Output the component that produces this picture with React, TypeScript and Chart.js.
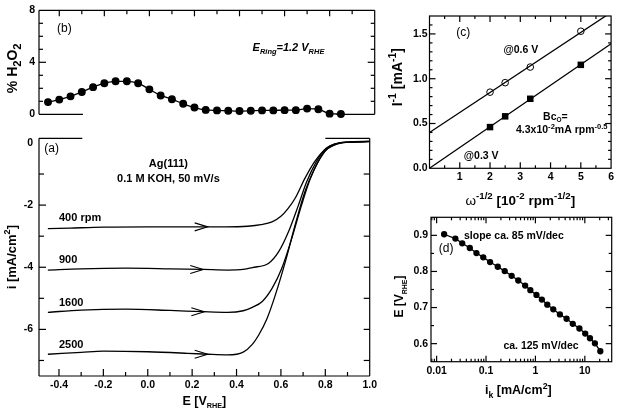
import React, { useEffect, useRef } from "react";
import { Chart, registerables } from "chart.js";

Chart.register(...registerables);

const FF = '"Liberation Sans", Arial, Helvetica, sans-serif';

// ---------- Panel (b): % H2O2 vs E ----------
const ringE = [-0.45, -0.4, -0.35, -0.3, -0.25, -0.2, -0.15, -0.1, -0.05, 0.0, 0.05, 0.1, 0.15, 0.2, 0.25, 0.3, 0.35, 0.4, 0.45, 0.5, 0.55, 0.6, 0.65, 0.7, 0.75, 0.8, 0.85];
const h2o2Pct = [0.94, 1.13, 1.38, 1.72, 2.09, 2.39, 2.54, 2.54, 2.39, 1.92, 1.45, 1.16, 0.81, 0.52, 0.34, 0.3, 0.27, 0.25, 0.27, 0.3, 0.3, 0.32, 0.32, 0.44, 0.39, 0.05, 0.02];
const h2o2Ticks = [0, 4, 8];

// ---------- Panel (a): LSV curves ----------
const eTicks = [-0.4, -0.2, 0.0, 0.2, 0.4, 0.6, 0.8, 1.0];
const iTicks = [0, -2, -4, -6];
const lsv400 = [[-0.45, -2.76], [-0.35, -2.74], [-0.2, -2.71], [0, -2.7], [0.2, -2.7], [0.35, -2.7], [0.45, -2.68], [0.51, -2.63], [0.56, -2.54], [0.6, -2.36], [0.63, -2.13], [0.664, -1.78], [0.708, -1.14], [0.752, -0.6], [0.797, -0.22], [0.84, -0.04], [0.9, 0.03], [1.0, 0.05]];
const lsv900 = [[-0.45, -4.09], [-0.3, -4.05], [-0.1, -4.03], [0.1, -4.05], [0.25, -4.07], [0.36, -4.09], [0.43, -4.07], [0.471, -4.01], [0.545, -3.87], [0.59, -3.5], [0.634, -2.86], [0.679, -2.0], [0.716, -1.25], [0.76, -0.6], [0.804, -0.17], [0.85, -0.02], [0.92, 0.03], [1.0, 0.05]];
const lsv1600 = [[-0.45, -5.45], [-0.3, -5.38], [-0.1, -5.35], [0.1, -5.39], [0.25, -5.43], [0.36, -5.45], [0.43, -5.4], [0.471, -5.29], [0.516, -5.1], [0.56, -4.68], [0.604, -4.03], [0.649, -3.07], [0.693, -2.0], [0.73, -1.19], [0.768, -0.6], [0.81, -0.18], [0.86, -0.02], [0.92, 0.03], [1.0, 0.05]];
const lsv2500 = [[-0.45, -6.8], [-0.3, -6.74], [-0.2, -6.7], [0, -6.72], [0.18, -6.77], [0.27, -6.8], [0.36, -6.82], [0.43, -6.73], [0.471, -6.48], [0.5, -6.18], [0.538, -5.64], [0.575, -4.89], [0.62, -3.82], [0.664, -2.64], [0.708, -1.57], [0.752, -0.82], [0.797, -0.28], [0.84, -0.06], [0.9, 0.02], [1.0, 0.04]];
const rpmLabels = ["400 rpm", "900", "1600", "2500"];
const rpmLabelI = [-2.38, -3.73, -5.12, -6.47];
const arrowE = [0.27, 0.25, 0.255, 0.27];
const arrowI = [-2.7, -4.07, -5.43, -6.8];

// ---------- Panel (c): Koutecky-Levich ----------
const omegaInv = [2, 2.5, 3.33, 5];
const invI06 = [0.85, 0.956, 1.13, 1.53];
const invI03 = [0.46, 0.58, 0.776, 1.155];
const fitX = [0, 6];
const fit06 = [0.4, 1.74];
const fit03 = [0.0, 1.39];
const klXTicks = [1, 2, 3, 4, 5, 6];
const klYTicks = [0, 0.5, 1.0, 1.5];

// ---------- Panel (d): Tafel ----------
const ikVals = [0.0142, 0.024, 0.033, 0.047, 0.064, 0.088, 0.121, 0.173, 0.239, 0.33, 0.45, 0.62, 0.79, 1.05, 1.35, 1.74, 2.3, 3.13, 4.27, 5.7, 7.77, 10.2, 12.7, 16.0, 20.6];
const tafelE = [0.903, 0.891, 0.878, 0.865, 0.851, 0.839, 0.826, 0.813, 0.801, 0.788, 0.775, 0.761, 0.748, 0.735, 0.722, 0.708, 0.695, 0.681, 0.669, 0.655, 0.642, 0.628, 0.615, 0.601, 0.579];
const ikTicks = [0.01, 0.1, 1, 10];
const tafelTicks = [0.6, 0.7, 0.8, 0.9];

// ---------- helpers ----------
type Seg = { t: string; k?: "sub" | "sup"; i?: boolean; b?: boolean };

function fontStr(size: number, bold: boolean, italic: boolean) {
  return `${italic ? "italic " : ""}${bold ? "bold " : ""}${size}px ${FF}`;
}

function drawRich(ctx: any, segs: Seg[], x: number, y: number, size: number, o: any = {}) {
  const bold = o.bold ?? true;
  const r = o.r ?? 0.68;
  ctx.save();
  ctx.translate(x, y);
  if (o.rotate) ctx.rotate(-Math.PI / 2);
  ctx.fillStyle = "#000";
  ctx.textBaseline = "alphabetic";
  ctx.textAlign = "left";
  const parts = segs.map((s) => {
    const sz = s.k ? size * r : size;
    const f = fontStr(sz, s.b ?? bold, s.i ?? !!o.italic);
    ctx.font = f;
    return { s, f, w: ctx.measureText(s.t).width, dy: s.k === "sub" ? size * (o.subDy ?? 0.3) : s.k === "sup" ? -size * 0.42 : 0 };
  });
  const total = parts.reduce((a, p) => a + p.w, 0);
  let cx = o.align === "left" ? 0 : -total / 2;
  const base = size * 0.36;
  for (const p of parts) {
    ctx.font = p.f;
    ctx.fillText(p.s.t, cx, base + p.dy);
    cx += p.w;
  }
  ctx.restore();
}

function seg1(t: string): Seg[] {
  return [{ t }];
}

function line(ctx: any, x1: number, y1: number, x2: number, y2: number) {
  ctx.beginPath();
  ctx.moveTo(x1, y1);
  ctx.lineTo(x2, y2);
  ctx.stroke();
}

function inRange(sc: any, v: number) {
  const lo = Math.min(sc.min, sc.max), hi = Math.max(sc.min, sc.max);
  return v > lo + 1e-9 && v < hi - 1e-9;
}

function xTicks(ctx: any, sc: any, vals: number[], y: number, len: number) {
  for (const v of vals) if (inRange(sc, v)) { const p = sc.getPixelForValue(v); line(ctx, p, y, p, y + len); }
}
function yTicks(ctx: any, sc: any, vals: number[], x: number, len: number) {
  for (const v of vals) if (inRange(sc, v)) { const p = sc.getPixelForValue(v); line(ctx, x, p, x + len, p); }
}
function steps(a: number, b: number, st: number) {
  const out: number[] = [];
  const n = Math.round((b - a) / st);
  for (let k = 0; k <= n; k++) out.push(+(a + k * st).toFixed(6));
  return out;
}
function logMinor(lo: number, hi: number) {
  const out: number[] = [];
  for (let d = -3; d <= 2; d++) for (let k = 2; k <= 9; k++) { const v = k * Math.pow(10, d); if (v > lo && v < hi) out.push(v); }
  return out;
}

const tickFont = { family: FF, size: 10.5, weight: "bold" as const };

function axis(extra: any, ticksExtra: any = {}) {
  return {
    type: "linear",
    grid: { display: false, drawTicks: false },
    border: { display: false },
    ...extra,
    ticks: { color: "#000", font: tickFont, padding: 3, ...ticksExtra },
  };
}

function setTicks(vals: number[]) {
  return (s: any) => { s.ticks = vals.map((v) => ({ value: v })); };
}

function overlay(draw: (chart: any) => void) {
  return {
    id: "overlay",
    afterDraw(chart: any) {
      const ctx = chart.ctx;
      ctx.save();
      ctx.strokeStyle = "#000";
      ctx.lineWidth = 1.2;
      draw(chart);
      ctx.restore();
    },
  };
}

const X_MIN = -0.49, X_MAX = 1.0;

function cfgB(): any {
  return {
    type: "line",
    data: {
      datasets: [{
        data: ringE.map((e, k) => ({ x: e, y: h2o2Pct[k] })),
        borderColor: "#000", backgroundColor: "#000", pointBackgroundColor: "#000", pointBorderColor: "#000",
        borderWidth: 1.3, pointRadius: 3.3, tension: 0.3, cubicInterpolationMode: "monotone", clip: false,
      }],
    },
    options: {
      animation: false, responsive: false, maintainAspectRatio: false,
      layout: { padding: { top: 4.5, right: 4, bottom: 10.7, left: 0 } },
      plugins: { legend: { display: false }, tooltip: { enabled: false } },
      scales: {
        x: { type: "linear", min: X_MIN, max: X_MAX, display: false },
        y: axis({ min: 0, max: 8, afterBuildTicks: setTicks(h2o2Ticks), afterFit: (s: any) => { s.width = 39; } }, { padding: 4 }),
      },
    },
    plugins: [overlay((chart) => {
      const { ctx, chartArea: ca, scales: { x, y } } = chart;
      line(ctx, ca.left, ca.top, ca.left, ca.bottom);
      line(ctx, ca.right, ca.top, ca.right, ca.bottom);
      line(ctx, ca.left, ca.top, ca.right, ca.top);
      line(ctx, ca.left, ca.bottom, x.getPixelForValue(-0.295), ca.bottom);
      line(ctx, x.getPixelForValue(0.83), ca.bottom, ca.right, ca.bottom);
      yTicks(ctx, y, [4], ca.left, 7);
      yTicks(ctx, y, [1, 2, 3, 5, 6, 7], ca.left, 4);
      yTicks(ctx, y, [4], ca.right, -7);
      yTicks(ctx, y, [1, 2, 3, 5, 6, 7], ca.right, -4);
      xTicks(ctx, x, steps(-0.4, 1.0, 0.2), ca.top, 6);
      xTicks(ctx, x, steps(-0.3, 0.9, 0.2), ca.top, 4);
      drawRich(ctx, [{ t: "% H" }, { t: "2", k: "sub" }, { t: "O" }, { t: "2", k: "sub" }], ca.left - 27, (ca.top + ca.bottom) / 2 + 6, 14, { rotate: true, r: 0.8 });
      drawRich(ctx, seg1("(b)"), x.getPixelForValue(-0.41), y.getPixelForValue(6.7), 12, { align: "left", bold: false });
      drawRich(ctx, [{ t: "E" }, { t: "Ring", k: "sub" }, { t: "=1.2 V" }, { t: "RHE", k: "sub" }], x.getPixelForValue(0.458), y.getPixelForValue(5.17), 11, { align: "left", italic: true });
    })],
  };
}

function curveDs(pts: number[][]) {
  return {
    data: pts.map(([x, y]) => ({ x, y })),
    borderColor: "#000", borderWidth: 1.3, pointRadius: 0, tension: 0.4, cubicInterpolationMode: "monotone", fill: false,
  };
}

function cfgA(): any {
  return {
    type: "line",
    data: { datasets: [curveDs(lsv400), curveDs(lsv900), curveDs(lsv1600), curveDs(lsv2500)] },
    options: {
      animation: false, responsive: false, maintainAspectRatio: false,
      layout: { padding: { top: 13.3, right: 4, bottom: 0, left: 0 } },
      plugins: { legend: { display: false }, tooltip: { enabled: false } },
      scales: {
        x: axis({ min: X_MIN, max: X_MAX, afterBuildTicks: setTicks(eTicks), afterFit: (s: any) => { s.height = 39; } }, { padding: 3, maxRotation: 0, autoSkip: false, callback: (v: number) => v.toFixed(1) }),
        y: axis({ min: -7.5, max: 0.15, afterBuildTicks: setTicks(iTicks), afterFit: (s: any) => { s.width = 39; } }, { padding: 6 }),
      },
    },
    plugins: [overlay((chart) => {
      const { ctx, chartArea: ca, scales: { x, y } } = chart;
      line(ctx, ca.left, ca.top, ca.left, ca.bottom);
      line(ctx, ca.right, ca.top, ca.right, ca.bottom);
      line(ctx, ca.left, ca.bottom, ca.right, ca.bottom);
      line(ctx, ca.left, ca.top, x.getPixelForValue(-0.295), ca.top);
      line(ctx, x.getPixelForValue(0.80), ca.top, ca.right, ca.top);
      yTicks(ctx, y, [-2, -4, -6], ca.left, 7);
      yTicks(ctx, y, [-1, -3, -5, -7], ca.left, 5);
      yTicks(ctx, y, [-1, -2, -3, -4, -5, -6, -7], ca.right, -6);
      xTicks(ctx, x, steps(-0.4, 1.0, 0.2), ca.bottom, -7);
      xTicks(ctx, x, steps(-0.3, 0.9, 0.2), ca.bottom, -4);
      // arrows
      ctx.lineWidth = 1.1;
      arrowE.forEach((e, k) => {
        const px = x.getPixelForValue(e), py = y.getPixelForValue(arrowI[k]);
        ctx.beginPath();
        ctx.moveTo(px - 13, py - 4);
        ctx.lineTo(px, py);
        ctx.lineTo(px - 13, py + 4);
        ctx.stroke();
      });
      drawRich(ctx, [{ t: "i [mA/cm" }, { t: "2", k: "sup" }, { t: "]" }], ca.left - 28, (ca.top + ca.bottom) / 2, 13, { rotate: true, r: 0.7 });
      drawRich(ctx, [{ t: "E [V" }, { t: "RHE", k: "sub" }, { t: "]" }], (ca.left + ca.right) / 2, ca.bottom + 24, 12.5, { r: 0.58 });
      drawRich(ctx, seg1("(a)"), x.getPixelForValue(-0.466), y.getPixelForValue(-0.16), 12, { align: "left", bold: false });
      drawRich(ctx, seg1("Ag(111)"), x.getPixelForValue(0.093), y.getPixelForValue(-0.65), 11);
      drawRich(ctx, seg1("0.1 M KOH, 50 mV/s"), x.getPixelForValue(0.093), y.getPixelForValue(-1.12), 11);
      rpmLabels.forEach((t, k) => drawRich(ctx, seg1(t), x.getPixelForValue(-0.40), y.getPixelForValue(rpmLabelI[k]), 11, { align: "left" }));
    })],
  };
}

function cfgC(): any {
  return {
    type: "scatter",
    data: {
      datasets: [
        { data: fitX.map((v, k) => ({ x: v, y: fit06[k] })), showLine: true, borderColor: "#000", borderWidth: 1.3, pointRadius: 0 },
        { data: fitX.map((v, k) => ({ x: v, y: fit03[k] })), showLine: true, borderColor: "#000", borderWidth: 1.3, pointRadius: 0 },
        { data: omegaInv.map((v, k) => ({ x: v, y: invI06[k] })), pointStyle: "circle", pointRadius: 3.3, pointBackgroundColor: "#fff", pointBorderColor: "#000", pointBorderWidth: 1, clip: false },
        { data: omegaInv.map((v, k) => ({ x: v, y: invI03[k] })), pointStyle: "rect", pointRadius: 4.6, pointBackgroundColor: "#000", pointBorderColor: "#000", pointBorderWidth: 0, clip: false },
      ],
    },
    options: {
      animation: false, responsive: false, maintainAspectRatio: false,
      layout: { padding: { top: 16, right: 2.7, bottom: 0, left: 0 } },
      plugins: { legend: { display: false }, tooltip: { enabled: false } },
      scales: {
        x: axis({ min: 0, max: 6, afterBuildTicks: setTicks(klXTicks), afterFit: (s: any) => { s.height = 39.7; } }, { padding: 3, maxRotation: 0, autoSkip: false }),
        y: axis({ min: 0, max: 1.7, afterBuildTicks: setTicks(klYTicks), afterFit: (s: any) => { s.width = 49.5; } }, { padding: 2, callback: (v: number) => v.toFixed(1) }),
      },
    },
    plugins: [overlay((chart) => {
      const { ctx, chartArea: ca, scales: { x, y } } = chart;
      ctx.strokeRect(ca.left, ca.top, ca.right - ca.left, ca.bottom - ca.top);
      const yMaj = [0.5, 1.0, 1.5], yMin = steps(0.1, 1.6, 0.1).filter((v) => !yMaj.some((m) => Math.abs(m - v) < 1e-6));
      yTicks(ctx, y, yMaj, ca.left, 6); yTicks(ctx, y, yMin, ca.left, 3);
      yTicks(ctx, y, yMaj, ca.right, -6); yTicks(ctx, y, yMin, ca.right, -3);
      const xMaj = [1, 2, 3, 4, 5], xMin = [0.5, 1.5, 2.5, 3.5, 4.5, 5.5];
      xTicks(ctx, x, xMaj, ca.bottom, -6); xTicks(ctx, x, xMin, ca.bottom, -3);
      xTicks(ctx, x, xMaj, ca.top, 6); xTicks(ctx, x, xMin, ca.top, 3);
      drawRich(ctx, [{ t: "I" }, { t: "-1", k: "sup" }, { t: " [mA" }, { t: "-1", k: "sup" }, { t: "]" }], ca.left - 33, (ca.top + ca.bottom) / 2 - 15, 14, { rotate: true, r: 0.75 });
      drawRich(ctx, [{ t: "ω", b: false }, { t: "-1/2", k: "sup" }, { t: " [10" }, { t: "-2", k: "sup" }, { t: " rpm" }, { t: "-1/2", k: "sup" }, { t: "]" }], (ca.left + ca.right) / 2, ca.bottom + 32, 13.5, { r: 0.72 });
      drawRich(ctx, seg1("(c)"), x.getPixelForValue(0.88), y.getPixelForValue(1.52), 12, { align: "left", bold: false });
      drawRich(ctx, seg1("@0.6 V"), x.getPixelForValue(3.02), y.getPixelForValue(1.33), 10.5);
      drawRich(ctx, seg1("@0.3 V"), x.getPixelForValue(1.71), y.getPixelForValue(0.15), 10.5);
      drawRich(ctx, [{ t: "Bc" }, { t: "O", k: "sub" }, { t: "=" }], x.getPixelForValue(4.16), y.getPixelForValue(0.585), 10.5, { r: 0.62, subDy: 0.22 });
      drawRich(ctx, [{ t: "4.3x10" }, { t: "-2", k: "sup" }, { t: "mA rpm" }, { t: "-0.5", k: "sup" }], x.getPixelForValue(4.37), y.getPixelForValue(0.435), 10.5, { r: 0.72 });
    })],
  };
}

function cfgD(): any {
  return {
    type: "line",
    data: {
      datasets: [{
        data: ikVals.map((v, k) => ({ x: v, y: tafelE[k] })),
        borderColor: "#000", backgroundColor: "#000", pointBackgroundColor: "#000", pointBorderColor: "#000",
        borderWidth: 1.3, pointRadius: 2.5, tension: 0, clip: false,
      }],
    },
    options: {
      animation: false, responsive: false, maintainAspectRatio: false,
      layout: { padding: { top: 2, right: 4, bottom: 0, left: 0 } },
      plugins: { legend: { display: false }, tooltip: { enabled: false } },
      scales: {
        x: axis({ type: "logarithmic", min: 0.0077, max: 35, afterBuildTicks: setTicks(ikTicks), afterFit: (s: any) => { s.height = 53.3; } }, { padding: 3, maxRotation: 0, autoSkip: false, callback: (v: number) => String(v) }),
        y: axis({ min: 0.55, max: 0.95, afterBuildTicks: setTicks(tafelTicks), afterFit: (s: any) => { s.width = 51; } }, { padding: 3, callback: (v: number) => v.toFixed(1) }),
      },
    },
    plugins: [overlay((chart) => {
      const { ctx, chartArea: ca, scales: { x, y } } = chart;
      ctx.strokeRect(ca.left, ca.top, ca.right - ca.left, ca.bottom - ca.top);
      const yMaj = [0.6, 0.7, 0.8, 0.9], yMin = [0.65, 0.75, 0.85];
      yTicks(ctx, y, yMaj, ca.left, 6); yTicks(ctx, y, yMin, ca.left, 3);
      yTicks(ctx, y, yMaj, ca.right, -6); yTicks(ctx, y, yMin, ca.right, -3);
      const xMin = logMinor(0.0077, 35);
      xTicks(ctx, x, ikTicks, ca.bottom, -6); xTicks(ctx, x, xMin, ca.bottom, -3);
      xTicks(ctx, x, ikTicks, ca.top, 6); xTicks(ctx, x, xMin, ca.top, 3);
      drawRich(ctx, [{ t: "E [V" }, { t: "RHE", k: "sub" }, { t: "]" }], ca.left - 32, (ca.top + ca.bottom) / 2 + 7, 12, { rotate: true, r: 0.58 });
      drawRich(ctx, [{ t: "i" }, { t: "k", k: "sub" }, { t: " [mA/cm" }, { t: "2", k: "sup" }, { t: "]" }], (ca.left + ca.right) / 2 - 3, ca.bottom + 28, 12.5, { r: 0.7 });
      drawRich(ctx, seg1("slope ca. 85 mV/dec"), x.getPixelForValue(0.0358), y.getPixelForValue(0.90), 10.5, { align: "left" });
      drawRich(ctx, seg1("(d)"), x.getPixelForValue(0.0111), y.getPixelForValue(0.866), 12, { align: "left", bold: false });
      drawRich(ctx, seg1("ca. 125 mV/dec"), x.getPixelForValue(0.225), y.getPixelForValue(0.597), 10.5, { align: "left" });
    })],
  };
}

export default function App() {
  const rb = useRef<HTMLCanvasElement>(null);
  const ra = useRef<HTMLCanvasElement>(null);
  const rc = useRef<HTMLCanvasElement>(null);
  const rd = useRef<HTMLCanvasElement>(null);

  useEffect(() => {
    const charts = [
      new Chart(rb.current as HTMLCanvasElement, cfgB()),
      new Chart(ra.current as HTMLCanvasElement, cfgA()),
      new Chart(rc.current as HTMLCanvasElement, cfgC()),
      new Chart(rd.current as HTMLCanvasElement, cfgD()),
    ];
    return () => charts.forEach((c) => c.destroy());
  }, []);

  const cs = (l: number, t: number, w: number, h: number): React.CSSProperties => ({ position: "absolute", left: l, top: t, width: w, height: h });

  return (
    <div style={{ position: "absolute", left: 0, top: 0, width: 617, height: 415, background: "#fff", overflow: "hidden" }}>
      <canvas ref={rb} width={380} height={125} style={cs(0, 0, 380, 125)} />
      <canvas ref={ra} width={380} height={290} style={cs(0, 125, 380, 290)} />
      <canvas ref={rc} width={237} height={208} style={cs(380, 0, 237, 208)} />
      <canvas ref={rd} width={237} height={207} style={cs(380, 208, 237, 207)} />
    </div>
  );
}
